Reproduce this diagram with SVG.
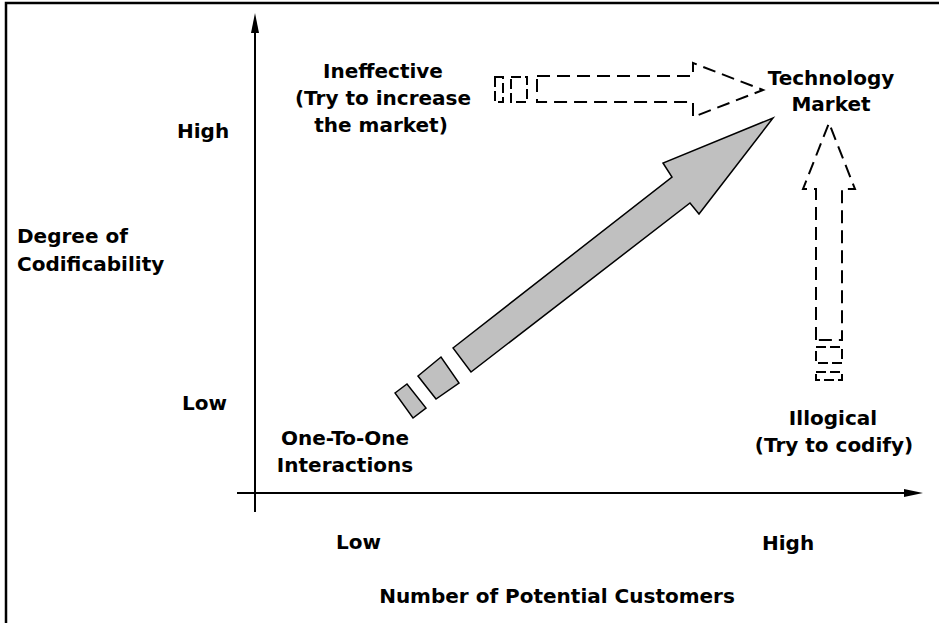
<svg xmlns="http://www.w3.org/2000/svg" width="939" height="623" viewBox="0 0 939 623">
<style>
text{font-family:"DejaVu Sans","Liberation Sans",sans-serif;font-weight:bold;font-size:20px;fill:#000}
.m{text-anchor:middle}
.ax{stroke:#000;stroke-width:2;fill:none}
.dash{fill:none;stroke:#000;stroke-width:2;stroke-dasharray:13 7}
.thin{fill:none;stroke:#000;stroke-width:2;stroke-dasharray:10 4}
.solid{fill:#c0c0c0;stroke:#000;stroke-width:1.5;stroke-linejoin:miter}
</style>
<rect width="939" height="623" fill="#fff"/>
<path d="M6,623 V3 H939" fill="none" stroke="#000" stroke-width="2.5"/>
<g id="axes">
<line class="ax" x1="255" y1="30" x2="255" y2="512"/>
<polygon points="255,13 251,33 259,33" fill="#000"/>
<line class="ax" x1="237" y1="493" x2="906" y2="493"/>
<polygon points="923,493 904,489 904,497" fill="#000"/>
</g>
<g id="axis-labels">
<text x="177" y="138">High</text>
<text x="182" y="410">Low</text>
<text x="17" y="243">Degree of</text>
<text x="17" y="271">Codificability</text>
<text x="336" y="549">Low</text>
<text x="762" y="550">High</text>
<text class="m" x="557" y="603">Number of Potential Customers</text>
</g>
<g id="node-one-to-one">
<text class="m" x="345" y="445">One-To-One</text>
<text class="m" x="345" y="472">Interactions</text>
</g>
<g id="node-technology-market">
<text class="m" x="831" y="85">Technology</text>
<text class="m" x="831" y="111">Market</text>
</g>
<g id="node-ineffective">
<text class="m" x="383" y="78">Ineffective</text>
<text class="m" x="383" y="105">(Try to increase</text>
<text class="m" x="381" y="132">the market)</text>
</g>
<g id="node-illogical">
<text class="m" x="833" y="425">Illogical</text>
<text class="m" x="834" y="452">(Try to codify)</text>
</g>
<g id="connectors">
<g id="arrow-diagonal">
<polygon class="solid" points="453,348 672,177 663,163 773,118 699,214 690,203 471,372"/>
<polygon class="solid" points="418,376 441,357 459,383 436,399"/>
<polygon class="solid" points="395,393 407,384 426,408 413,418"/>
</g>
<g id="arrow-horizontal">
<polygon class="dash" points="537,76 693,76 693,63 763,90 693,117 693,102 537,102"/>
<rect class="thin" x="511" y="77" width="16" height="25"/>
<rect class="thin" x="495" y="77" width="8" height="25"/>
</g>
<g id="arrow-vertical">
<polygon class="dash" points="816,340 816,189 803,189 829,123 855,189 842,189 842,340"/>
<rect class="thin" x="816" y="347" width="26" height="16"/>
<rect class="thin" x="816" y="372" width="26" height="8"/>
</g>
</g>
</svg>
